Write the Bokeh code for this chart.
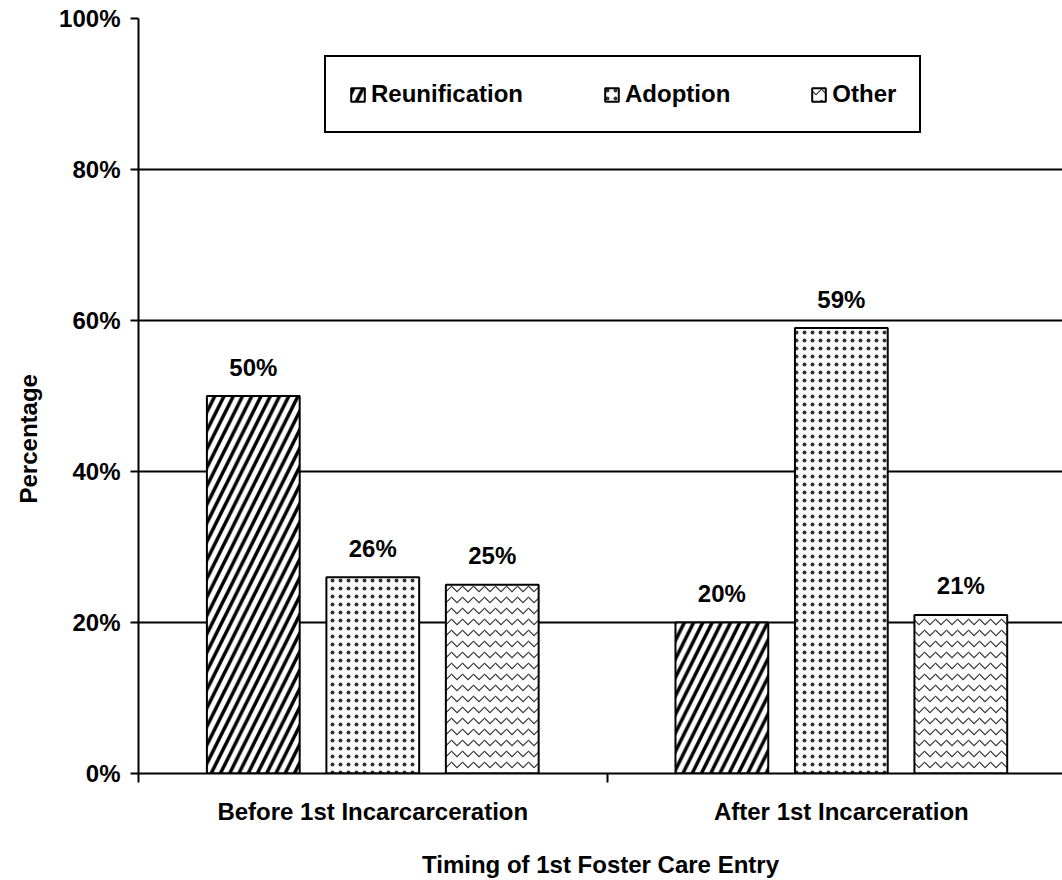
from bokeh.plotting import figure
from bokeh.models import (Range1d, FixedTicker, PrintfTickFormatter, Legend,
                          LegendItem, ColumnDataSource, Title)
from bokeh.core.properties import value
from bokeh.embed import file_html
from bokeh.resources import INLINE

# ---- data ----
categories = ["Before 1st Incarcarceration", "After 1st Incarceration"]
series_names = ["Reunification", "Adoption", "Other"]
reunification = [50, 20]
adoption = [26, 59]
other = [25, 21]
y_ticks = [0, 20, 40, 60, 80, 100]
y_title = "Percentage"
x_title = "Timing of 1st Foster Care Entry"

# ---- styling ----
FONT = "Liberation Sans"
FS = "24px"
offsets = [-0.255, 0.0, 0.255]
bar_width = 0.198
styles = [
    dict(hatch_pattern="/", hatch_scale=18.5, hatch_weight=3.5, hatch_color="black"),
    dict(hatch_pattern=".", hatch_scale=8, hatch_weight=0.7, hatch_color="#333333"),
    dict(hatch_pattern="v", hatch_scale=11, hatch_weight=1.1, hatch_color="#333333"),
]

p = figure(width=1062, height=880, output_backend="svg", toolbar_location=None,
           x_range=Range1d(0, 1.972), y_range=Range1d(0, 100),
           min_border_left=137, min_border_right=0, min_border_top=18,
           min_border_bottom=100)
p.outline_line_color = None
p.background_fill_color = "white"
p.border_fill_color = "white"

# grid
p.xgrid.grid_line_color = None
p.ygrid.grid_line_color = "black"
p.ygrid.grid_line_width = 2

# y axis
ya = p.yaxis[0]
ya.ticker = FixedTicker(ticks=y_ticks)
ya.formatter = PrintfTickFormatter(format="%d%%")
ya.axis_line_width = 2
ya.axis_line_color = "black"
ya.major_tick_line_width = 2
ya.major_tick_out = 8
ya.major_tick_in = 0
ya.minor_tick_line_color = None
ya.minor_tick_out = 0
ya.major_label_standoff = 10
ya.major_label_text_font = FONT
ya.major_label_text_font_style = "bold"
ya.major_label_text_font_size = FS
ya.major_label_text_color = "black"

# y title (placed lower than the frame centre, as in the reference)
p.add_layout(Title(text=y_title, align="left", offset=270, vertical_align="middle",
                   standoff=27, text_font=FONT, text_font_style="bold",
                   text_font_size=FS, text_color="black"), "left")

# x axis
n = len(categories)
xa = p.xaxis[0]
xa.ticker = FixedTicker(ticks=[i + 0.5 for i in range(n)],
                        minor_ticks=list(range(n + 1)))
xa.major_label_overrides = {i + 0.5: c for i, c in enumerate(categories)}
xa.axis_line_width = 2
xa.axis_line_color = "black"
xa.major_tick_line_color = None
xa.major_tick_out = 0
xa.major_tick_in = 0
xa.minor_tick_line_color = "black"
xa.minor_tick_line_width = 2
xa.minor_tick_out = 9
xa.minor_tick_in = 0
xa.major_label_standoff = 15
xa.major_label_text_font = FONT
xa.major_label_text_font_style = "bold"
xa.major_label_text_font_size = FS
xa.major_label_text_color = "black"
xa.axis_label = x_title
xa.axis_label_standoff = 23
xa.axis_label_text_font = FONT
xa.axis_label_text_font_style = "bold"
xa.axis_label_text_font_size = FS
xa.axis_label_text_color = "black"

# bars + labels
all_series = [reunification, adoption, other]
items = []
for k, (name, vals) in enumerate(zip(series_names, all_series)):
    xs = [j + 0.5 + offsets[k] for j in range(n)]
    src = ColumnDataSource(dict(x=xs, top=vals, label=[f"{v}%" for v in vals]))
    r = p.vbar(x="x", top="top", bottom=0, width=bar_width, source=src,
               fill_color="white", line_color="black", line_width=2,
               **styles[k])
    p.text(x="x", y="top", text="label", source=src, y_offset=-29,
           text_align="center", text_baseline="alphabetic",
           text_font=value(FONT), text_font_style="bold",
           text_font_size=FS, text_color="black")
    items.append(LegendItem(label=name, renderers=[r]))

legend = Legend(items=items, orientation="horizontal", location=(186, 640),
                padding=23, spacing=80, glyph_width=17, glyph_height=17,
                label_standoff=5, margin=0,
                label_text_font=FONT, label_text_font_style="bold",
                label_text_font_size=FS, label_text_color="black",
                border_line_color="black", border_line_width=2,
                border_line_alpha=1.0,
                background_fill_color="white", background_fill_alpha=1)
p.add_layout(legend)

open("out.html", "w").write(file_html(p, INLINE))
